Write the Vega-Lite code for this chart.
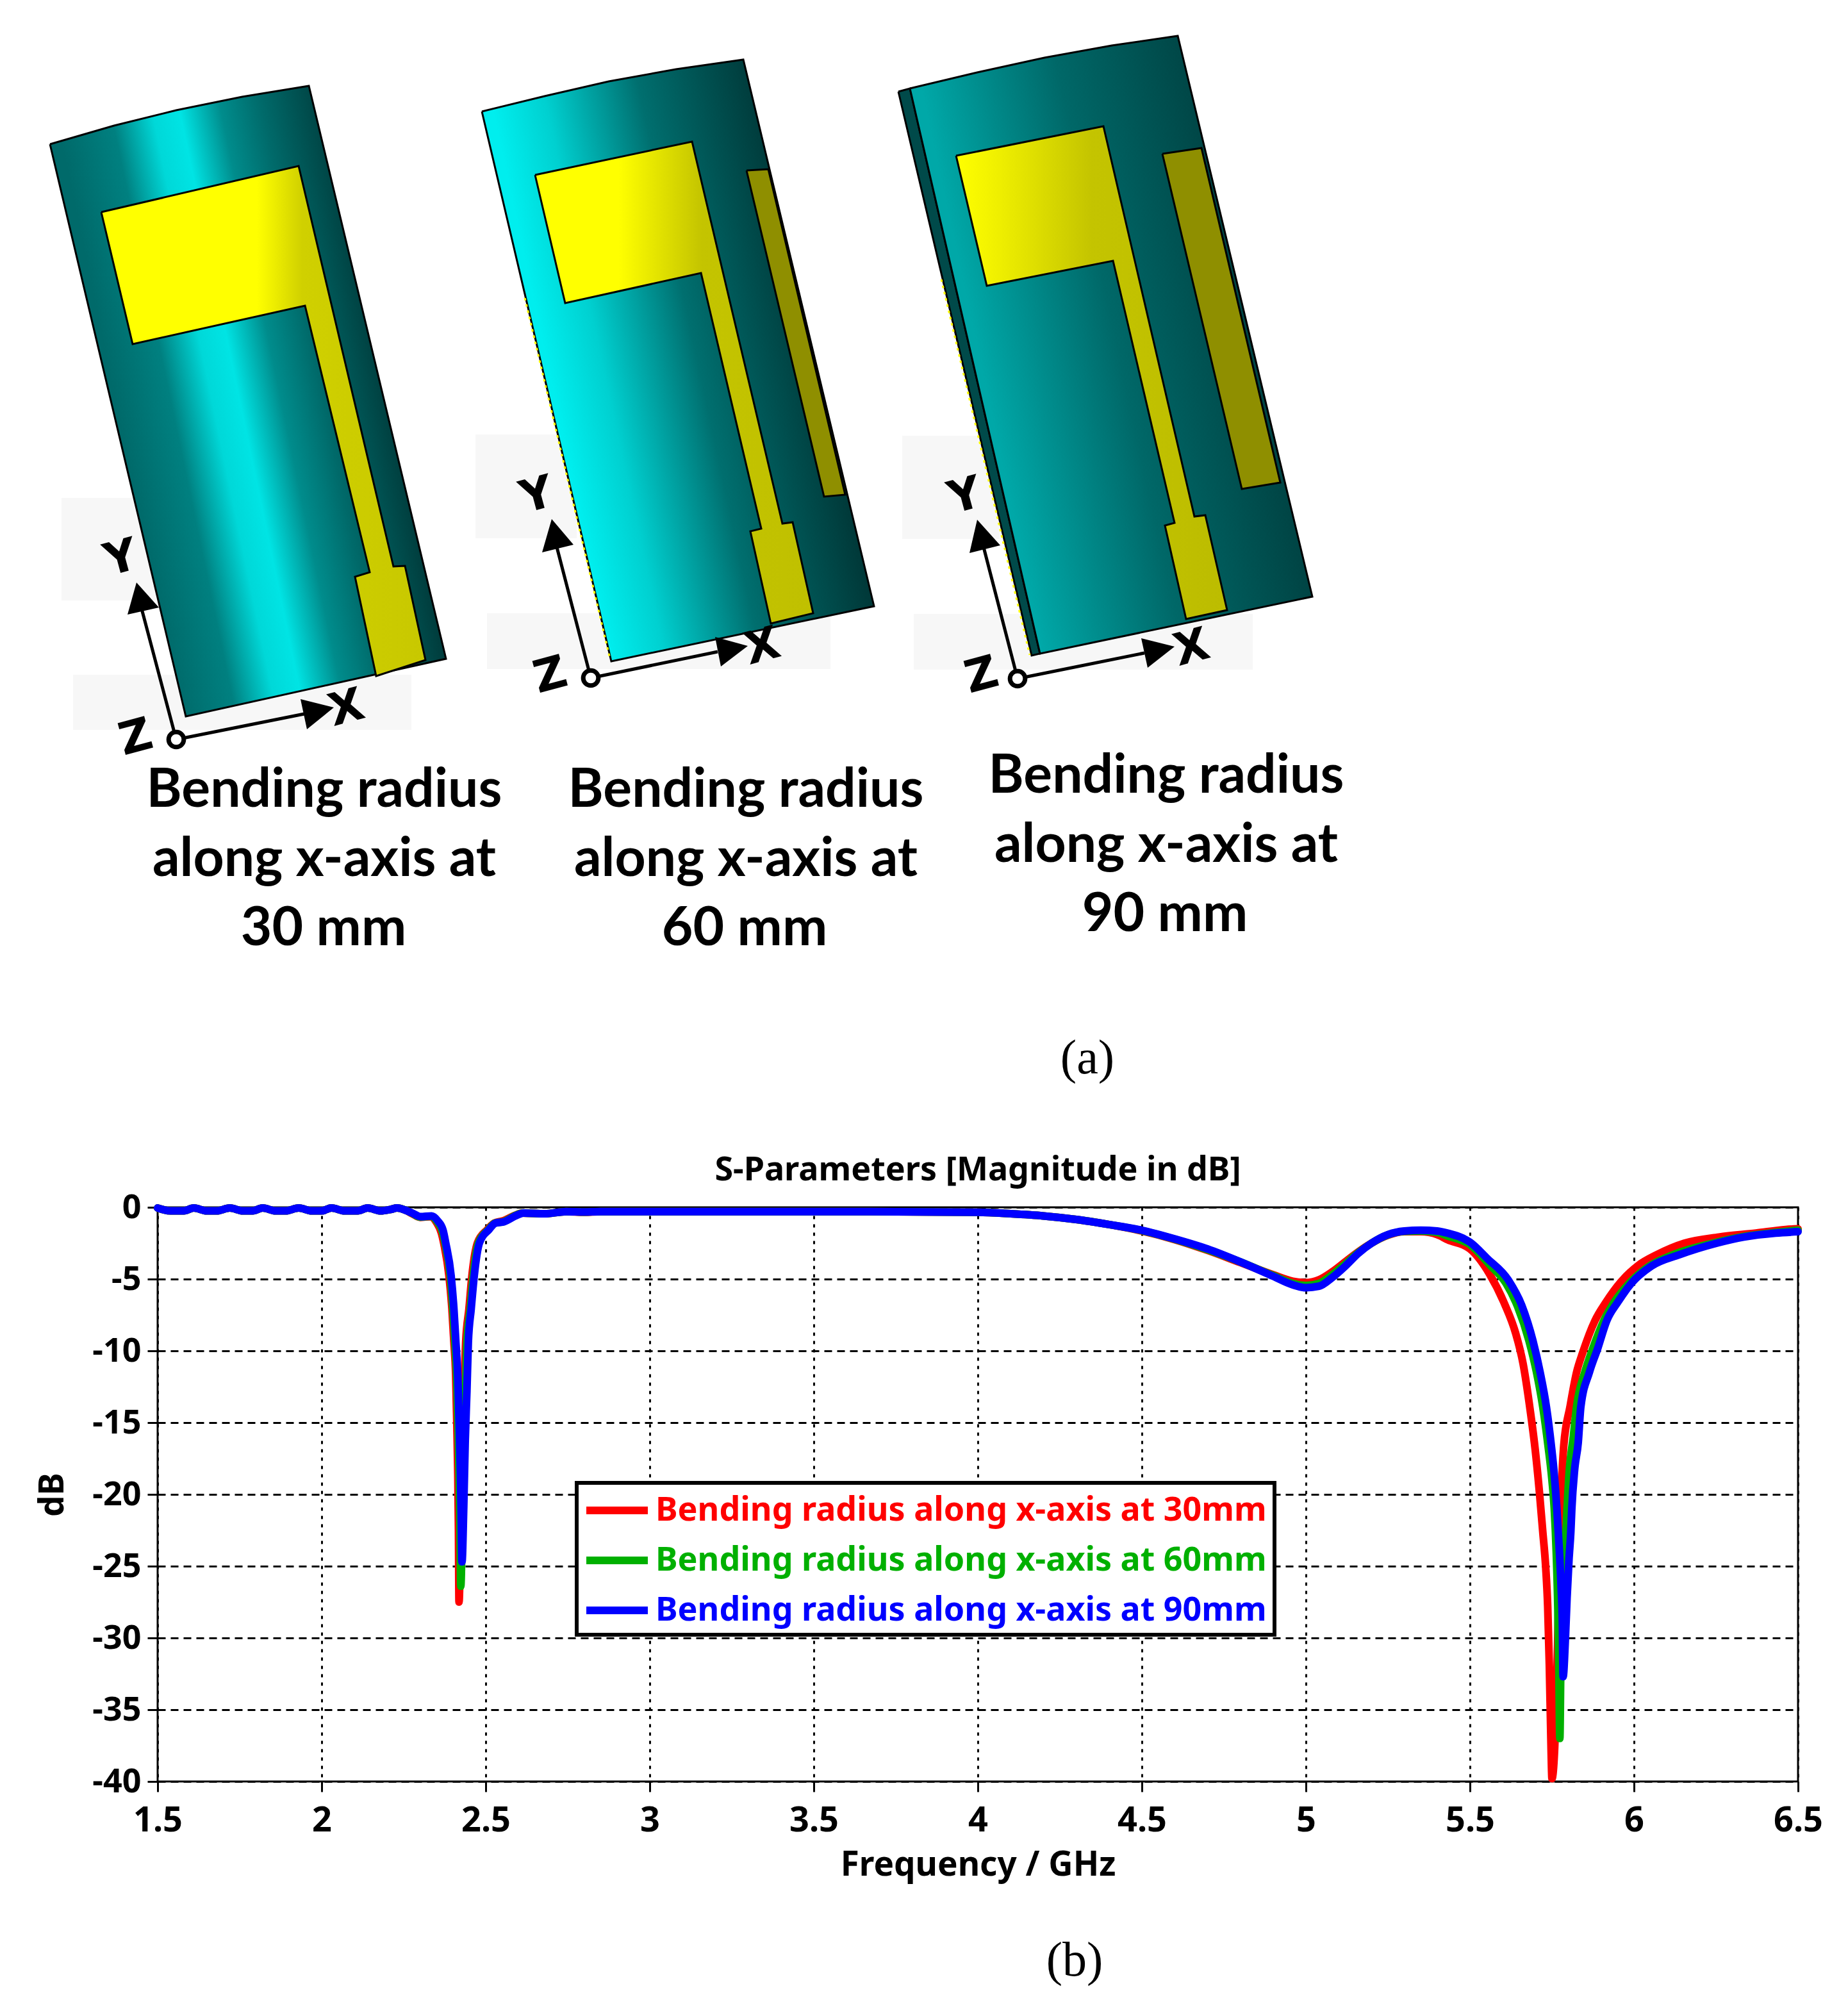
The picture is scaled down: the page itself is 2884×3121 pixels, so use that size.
{"$schema":"https://vega.github.io/schema/vega-lite/v6.json","width":2560,"height":896,"autosize":{"type":"none"},"padding":{"left":246,"top":1884,"right":78,"bottom":341},"background":"white","config":{"view":{"stroke":"#000000","strokeWidth":3},"font":"Noto Sans","legend":{"strokeWidth":6}},
"datasets":{
"shapes":[
{"shape":"b1","part":"backdrop","i":0,"x":96,"y":777},{"shape":"b1","part":"backdrop","i":1,"x":260,"y":777},{"shape":"b1","part":"backdrop","i":2,"x":260,"y":937},{"shape":"b1","part":"backdrop","i":3,"x":96,"y":937},
{"shape":"b2","part":"backdrop","i":0,"x":114,"y":1053},{"shape":"b2","part":"backdrop","i":1,"x":642,"y":1053},{"shape":"b2","part":"backdrop","i":2,"x":642,"y":1139},{"shape":"b2","part":"backdrop","i":3,"x":114,"y":1139},
{"shape":"b3","part":"backdrop","i":0,"x":742,"y":678},{"shape":"b3","part":"backdrop","i":1,"x":900,"y":678},{"shape":"b3","part":"backdrop","i":2,"x":900,"y":840},{"shape":"b3","part":"backdrop","i":3,"x":742,"y":840},
{"shape":"b4","part":"backdrop","i":0,"x":760,"y":957},{"shape":"b4","part":"backdrop","i":1,"x":1296,"y":957},{"shape":"b4","part":"backdrop","i":2,"x":1296,"y":1044},{"shape":"b4","part":"backdrop","i":3,"x":760,"y":1044},
{"shape":"b5","part":"backdrop","i":0,"x":1408,"y":680},{"shape":"b5","part":"backdrop","i":1,"x":1560,"y":680},{"shape":"b5","part":"backdrop","i":2,"x":1560,"y":841},{"shape":"b5","part":"backdrop","i":3,"x":1408,"y":841},
{"shape":"b6","part":"backdrop","i":0,"x":1426,"y":958},{"shape":"b6","part":"backdrop","i":1,"x":1955,"y":958},{"shape":"b6","part":"backdrop","i":2,"x":1955,"y":1045},{"shape":"b6","part":"backdrop","i":3,"x":1426,"y":1045},
{"shape":"body1","part":"body1","i":0,"x":78,"y":225},{"shape":"body1","part":"body1","i":1,"x":178,"y":196},{"shape":"body1","part":"body1","i":2,"x":275,"y":172},{"shape":"body1","part":"body1","i":3,"x":378,"y":151},{"shape":"body1","part":"body1","i":4,"x":482,"y":134},{"shape":"body1","part":"body1","i":5,"x":696,"y":1028},{"shape":"body1","part":"body1","i":6,"x":290,"y":1118},{"shape":"body1","part":"body1","i":7,"x":78,"y":225},
{"shape":"body2","part":"body2","i":0,"x":752,"y":174},{"shape":"body2","part":"body2","i":1,"x":850,"y":150},{"shape":"body2","part":"body2","i":2,"x":950,"y":127},{"shape":"body2","part":"body2","i":3,"x":1055,"y":108},{"shape":"body2","part":"body2","i":4,"x":1160,"y":93},{"shape":"body2","part":"body2","i":5,"x":1364,"y":946},{"shape":"body2","part":"body2","i":6,"x":954,"y":1032},{"shape":"body2","part":"body2","i":7,"x":752,"y":174},
{"shape":"strip3","part":"strip3","i":0,"x":1402,"y":143},{"shape":"strip3","part":"strip3","i":1,"x":1420,"y":138},{"shape":"strip3","part":"strip3","i":2,"x":1623,"y":1020},{"shape":"strip3","part":"strip3","i":3,"x":1610,"y":1023},{"shape":"strip3","part":"strip3","i":4,"x":1402,"y":143},
{"shape":"body3","part":"body3","i":0,"x":1420,"y":138},{"shape":"body3","part":"body3","i":1,"x":1525,"y":113},{"shape":"body3","part":"body3","i":2,"x":1630,"y":90},{"shape":"body3","part":"body3","i":3,"x":1735,"y":71},{"shape":"body3","part":"body3","i":4,"x":1838,"y":56},{"shape":"body3","part":"body3","i":5,"x":2048,"y":931},{"shape":"body3","part":"body3","i":6,"x":1623,"y":1020},{"shape":"body3","part":"body3","i":7,"x":1420,"y":138},
{"shape":"edge2","part":"edge","i":0,"x":819,"y":465},{"shape":"edge2","part":"edge","i":1,"x":952,"y":1028},
{"shape":"edge3","part":"edge","i":0,"x":1469,"y":436},{"shape":"edge3","part":"edge","i":1,"x":1607,"y":1022},
{"shape":"patch1","part":"patch1","i":0,"x":158,"y":331},{"shape":"patch1","part":"patch1","i":1,"x":466,"y":259},{"shape":"patch1","part":"patch1","i":2,"x":614,"y":884},{"shape":"patch1","part":"patch1","i":3,"x":632,"y":883},{"shape":"patch1","part":"patch1","i":4,"x":664,"y":1030},{"shape":"patch1","part":"patch1","i":5,"x":587,"y":1055},{"shape":"patch1","part":"patch1","i":6,"x":554,"y":900},{"shape":"patch1","part":"patch1","i":7,"x":577,"y":893},{"shape":"patch1","part":"patch1","i":8,"x":476,"y":477},{"shape":"patch1","part":"patch1","i":9,"x":207,"y":537},{"shape":"patch1","part":"patch1","i":10,"x":158,"y":331},
{"shape":"patch2","part":"patch2","i":0,"x":835,"y":273},{"shape":"patch2","part":"patch2","i":1,"x":1080,"y":221},{"shape":"patch2","part":"patch2","i":2,"x":1221,"y":817},{"shape":"patch2","part":"patch2","i":3,"x":1237,"y":815},{"shape":"patch2","part":"patch2","i":4,"x":1269,"y":957},{"shape":"patch2","part":"patch2","i":5,"x":1203,"y":973},{"shape":"patch2","part":"patch2","i":6,"x":1171,"y":829},{"shape":"patch2","part":"patch2","i":7,"x":1188,"y":825},{"shape":"patch2","part":"patch2","i":8,"x":1094,"y":426},{"shape":"patch2","part":"patch2","i":9,"x":882,"y":473},{"shape":"patch2","part":"patch2","i":10,"x":835,"y":273},
{"shape":"patch3","part":"patch3","i":0,"x":1492,"y":243},{"shape":"patch3","part":"patch3","i":1,"x":1722,"y":197},{"shape":"patch3","part":"patch3","i":2,"x":1864,"y":806},{"shape":"patch3","part":"patch3","i":3,"x":1881,"y":804},{"shape":"patch3","part":"patch3","i":4,"x":1915,"y":952},{"shape":"patch3","part":"patch3","i":5,"x":1851,"y":966},{"shape":"patch3","part":"patch3","i":6,"x":1818,"y":820},{"shape":"patch3","part":"patch3","i":7,"x":1833,"y":816},{"shape":"patch3","part":"patch3","i":8,"x":1737,"y":407},{"shape":"patch3","part":"patch3","i":9,"x":1540,"y":446},{"shape":"patch3","part":"patch3","i":10,"x":1492,"y":243},
{"shape":"ground2","part":"ground","i":0,"x":1165,"y":266},{"shape":"ground2","part":"ground","i":1,"x":1199,"y":264},{"shape":"ground2","part":"ground","i":2,"x":1319,"y":772},{"shape":"ground2","part":"ground","i":3,"x":1286,"y":775},{"shape":"ground2","part":"ground","i":4,"x":1165,"y":266},
{"shape":"ground3","part":"ground","i":0,"x":1814,"y":240},{"shape":"ground3","part":"ground","i":1,"x":1875,"y":231},{"shape":"ground3","part":"ground","i":2,"x":1998,"y":753},{"shape":"ground3","part":"ground","i":3,"x":1938,"y":763},{"shape":"ground3","part":"ground","i":4,"x":1814,"y":240},
{"shape":"ax1","part":"axis","i":0,"x":221,"y":950},{"shape":"ax1","part":"axis","i":1,"x":275,"y":1154},{"shape":"ax1","part":"axis","i":2,"x":475,"y":1114},
{"shape":"ax2","part":"axis","i":0,"x":868,"y":850},{"shape":"ax2","part":"axis","i":1,"x":922,"y":1058},{"shape":"ax2","part":"axis","i":2,"x":1120,"y":1017},
{"shape":"ax3","part":"axis","i":0,"x":1534,"y":850},{"shape":"ax3","part":"axis","i":1,"x":1588,"y":1059},{"shape":"ax3","part":"axis","i":2,"x":1786,"y":1019},
{"shape":"ar1y","part":"arrow","i":0,"x":213,"y":909},{"shape":"ar1y","part":"arrow","i":1,"x":248,"y":948},{"shape":"ar1y","part":"arrow","i":2,"x":199,"y":959},
{"shape":"ar1x","part":"arrow","i":0,"x":521,"y":1104},{"shape":"ar1x","part":"arrow","i":1,"x":479,"y":1138},{"shape":"ar1x","part":"arrow","i":2,"x":469,"y":1091},
{"shape":"ar2y","part":"arrow","i":0,"x":861,"y":810},{"shape":"ar2y","part":"arrow","i":1,"x":895,"y":850},{"shape":"ar2y","part":"arrow","i":2,"x":846,"y":862},
{"shape":"ar2x","part":"arrow","i":0,"x":1167,"y":1008},{"shape":"ar2x","part":"arrow","i":1,"x":1125,"y":1040},{"shape":"ar2x","part":"arrow","i":2,"x":1116,"y":994},
{"shape":"ar3y","part":"arrow","i":0,"x":1525,"y":811},{"shape":"ar3y","part":"arrow","i":1,"x":1561,"y":851},{"shape":"ar3y","part":"arrow","i":2,"x":1513,"y":863},
{"shape":"ar3x","part":"arrow","i":0,"x":1833,"y":1009},{"shape":"ar3x","part":"arrow","i":1,"x":1791,"y":1042},{"shape":"ar3x","part":"arrow","i":2,"x":1781,"y":996}
],
"origins":[{"x":275,"y":1154},{"x":922,"y":1058},{"x":1588,"y":1059}],
"letters":[{"t":"Y","x":189,"y":872},{"t":"Z","x":212,"y":1152},{"t":"X","x":541,"y":1106},{"t":"Y","x":838,"y":774},{"t":"Z","x":859,"y":1055},{"t":"X","x":1190,"y":1010},{"t":"Y","x":1506,"y":775},{"t":"Z","x":1532,"y":1055},{"t":"X","x":1860,"y":1012}],
"captions":[{"t":"Bending radius","x":506,"y":1234},{"t":"along x-axis at","x":506,"y":1342},{"t":"30 mm","x":505,"y":1450},{"t":"Bending radius","x":1164,"y":1234},{"t":"along x-axis at","x":1164,"y":1342},{"t":"60 mm","x":1162,"y":1450},{"t":"Bending radius","x":1820,"y":1212},{"t":"along x-axis at","x":1820,"y":1320},{"t":"90 mm","x":1818,"y":1428}],
"panels":[{"t":"(a)","x":1697,"y":1652},{"t":"(b)","x":1677,"y":3060}],
"heading":[{"t":"S-Parameters [Magnitude in dB]","x":1526,"y":1826}]
},
"resolve":{"scale":{"x":"independent","y":"independent"}},
"layer":[
{"encoding":{"x":{"field":"x","type":"quantitative","axis":null,"scale":{"domain":[246,2806],"nice":false,"zero":false}},"y":{"field":"y","type":"quantitative","axis":null,"scale":{"domain":[2780,1884],"nice":false,"zero":false}}},
"layer":[
{"data":{"name":"shapes"},"transform":[{"filter":"datum.part=='backdrop'"}],"mark":{"type":"line","fill":"#f7f7f7","stroke":null,"strokeWidth":0},"encoding":{"detail":{"field":"shape"},"order":{"field":"i"}}},
{"data":{"name":"shapes"},"transform":[{"filter":"datum.part=='body1'"}],"mark":{"type":"line","stroke":"#000000","strokeWidth":3,"fill":{"gradient":"linear","x1":0,"y1":0,"x2":0.63,"y2":-0.208,"stops":[{"offset":0,"color":"#006a6a"},{"offset":0.2,"color":"#008080"},{"offset":0.35,"color":"#00d8d8"},{"offset":0.45,"color":"#00e4e4"},{"offset":0.6,"color":"#008c8c"},{"offset":0.75,"color":"#006a6a"},{"offset":1,"color":"#003c3c"}]}},"encoding":{"order":{"field":"i"}}},
{"data":{"name":"shapes"},"transform":[{"filter":"datum.part=='body2'"}],"mark":{"type":"line","stroke":"#000000","strokeWidth":3,"fill":{"gradient":"linear","x1":0,"y1":0,"x2":0.63,"y2":-0.208,"stops":[{"offset":0,"color":"#00eeee"},{"offset":0.2,"color":"#00d0d0"},{"offset":0.55,"color":"#006f6f"},{"offset":0.8,"color":"#005050"},{"offset":1,"color":"#003838"}]}},"encoding":{"order":{"field":"i"}}},
{"data":{"name":"shapes"},"transform":[{"filter":"datum.part=='strip3'"}],"mark":{"type":"line","stroke":"#000000","strokeWidth":3,"fill":"#004a4a"},"encoding":{"order":{"field":"i"}}},
{"data":{"name":"shapes"},"transform":[{"filter":"datum.part=='body3'"}],"mark":{"type":"line","stroke":"#000000","strokeWidth":3,"fill":{"gradient":"linear","x1":0,"y1":0,"x2":0.63,"y2":-0.208,"stops":[{"offset":0,"color":"#00a8a8"},{"offset":0.5,"color":"#006868"},{"offset":1,"color":"#004444"}]}},"encoding":{"order":{"field":"i"}}},
{"data":{"name":"shapes"},"transform":[{"filter":"datum.part=='edge'"}],"mark":{"type":"line","stroke":"#ffff00","strokeWidth":3,"strokeDash":[4,6]},"encoding":{"detail":{"field":"shape"},"order":{"field":"i"}}},
{"data":{"name":"shapes"},"transform":[{"filter":"datum.part=='patch1'"}],"mark":{"type":"line","stroke":"#000000","strokeWidth":3,"fill":{"gradient":"linear","x1":0,"y1":0,"x2":1,"y2":0,"stops":[{"offset":0,"color":"#ffff00"},{"offset":0.48,"color":"#ffff00"},{"offset":0.62,"color":"#d0d000"},{"offset":1,"color":"#c8c800"}]}},"encoding":{"order":{"field":"i"}}},
{"data":{"name":"shapes"},"transform":[{"filter":"datum.part=='patch2'"}],"mark":{"type":"line","stroke":"#000000","strokeWidth":3,"fill":{"gradient":"linear","x1":0,"y1":0,"x2":1,"y2":0,"stops":[{"offset":0,"color":"#ffff00"},{"offset":0.3,"color":"#ffff00"},{"offset":0.6,"color":"#c4c400"},{"offset":1,"color":"#c0c000"}]}},"encoding":{"order":{"field":"i"}}},
{"data":{"name":"shapes"},"transform":[{"filter":"datum.part=='patch3'"}],"mark":{"type":"line","stroke":"#000000","strokeWidth":3,"fill":{"gradient":"linear","x1":0,"y1":0,"x2":1,"y2":0,"stops":[{"offset":0,"color":"#ffff00"},{"offset":0.15,"color":"#f0f000"},{"offset":0.5,"color":"#c4c400"},{"offset":1,"color":"#bcbc00"}]}},"encoding":{"order":{"field":"i"}}},
{"data":{"name":"shapes"},"transform":[{"filter":"datum.part=='ground'"}],"mark":{"type":"line","stroke":"#000000","strokeWidth":3,"fill":"#8f8f00"},"encoding":{"detail":{"field":"shape"},"order":{"field":"i"}}},
{"data":{"name":"shapes"},"transform":[{"filter":"datum.part=='axis'"}],"mark":{"type":"line","stroke":"#000000","strokeWidth":5},"encoding":{"detail":{"field":"shape"},"order":{"field":"i"}}},
{"data":{"name":"shapes"},"transform":[{"filter":"datum.part=='arrow'"}],"mark":{"type":"line","stroke":null,"fill":"#000000"},"encoding":{"detail":{"field":"shape"},"order":{"field":"i"}}},
{"data":{"name":"origins"},"mark":{"type":"point","filled":true,"fill":"#ffffff","stroke":"#000000","strokeWidth":7,"size":560,"opacity":1}},
{"data":{"name":"letters"},"mark":{"type":"text","font":"DejaVu Sans","fontWeight":"bold","fontSize":70,"angle":345,"color":"#000000","align":"center","baseline":"middle"},"encoding":{"text":{"field":"t"}}},
{"data":{"name":"captions"},"mark":{"type":"text","font":"Lato","fontWeight":"bold","fontSize":84,"color":"#000000","align":"center","baseline":"middle"},"encoding":{"text":{"field":"t"}}},
{"data":{"name":"panels"},"mark":{"type":"text","font":"Liberation Serif","fontSize":76,"color":"#000000","align":"center","baseline":"middle"},"encoding":{"text":{"field":"t"}}},
{"data":{"name":"heading"},"mark":{"type":"text","font":"Noto Sans","fontWeight":"bold","fontSize":52,"color":"#000000","align":"center","baseline":"middle"},"encoding":{"text":{"field":"t"}}}
]},
{"data":{"values":[
{"f":1.5,"db":-0.05,"r":"30mm"},{"f":1.54,"db":-0.25,"r":"30mm"},{"f":1.58,"db":-0.25,"r":"30mm"},{"f":1.61,"db":-0.05,"r":"30mm"},{"f":1.65,"db":-0.25,"r":"30mm"},{"f":1.68,"db":-0.25,"r":"30mm"},{"f":1.72,"db":-0.05,"r":"30mm"},{"f":1.76,"db":-0.25,"r":"30mm"},{"f":1.79,"db":-0.25,"r":"30mm"},{"f":1.82,"db":-0.05,"r":"30mm"},{"f":1.86,"db":-0.25,"r":"30mm"},{"f":1.89,"db":-0.25,"r":"30mm"},{"f":1.93,"db":-0.05,"r":"30mm"},{"f":1.97,"db":-0.25,"r":"30mm"},{"f":2.0,"db":-0.25,"r":"30mm"},{"f":2.03,"db":-0.05,"r":"30mm"},{"f":2.07,"db":-0.25,"r":"30mm"},{"f":2.11,"db":-0.25,"r":"30mm"},{"f":2.14,"db":-0.05,"r":"30mm"},{"f":2.18,"db":-0.25,"r":"30mm"},{"f":2.21,"db":-0.15,"r":"30mm"},{"f":2.23,"db":-0.05,"r":"30mm"},{"f":2.255,"db":-0.2,"r":"30mm"},{"f":2.276,"db":-0.45,"r":"30mm"},{"f":2.3,"db":-0.7,"r":"30mm"},{"f":2.332,"db":-0.65,"r":"30mm"},{"f":2.35,"db":-1.05,"r":"30mm"},{"f":2.365,"db":-1.8,"r":"30mm"},{"f":2.373,"db":-2.6,"r":"30mm"},{"f":2.388,"db":-4.77,"r":"30mm"},{"f":2.397,"db":-7.07,"r":"30mm"},{"f":2.403,"db":-9.38,"r":"30mm"},{"f":2.4085,"db":-11.68,"r":"30mm"},{"f":2.412,"db":-15.1,"r":"30mm"},{"f":2.415,"db":-18.6,"r":"30mm"},{"f":2.417,"db":-22.5,"r":"30mm"},{"f":2.4186,"db":-27.5,"r":"30mm"},{"f":2.424,"db":-22,"r":"30mm"},{"f":2.428,"db":-16.3,"r":"30mm"},{"f":2.4335,"db":-12.8,"r":"30mm"},{"f":2.439,"db":-9.4,"r":"30mm"},{"f":2.449,"db":-7.07,"r":"30mm"},{"f":2.458,"db":-4.77,"r":"30mm"},{"f":2.475,"db":-2.47,"r":"30mm"},{"f":2.505,"db":-1.55,"r":"30mm"},{"f":2.526,"db":-1.1,"r":"30mm"},{"f":2.552,"db":-0.95,"r":"30mm"},{"f":2.59,"db":-0.55,"r":"30mm"},{"f":2.61,"db":-0.4,"r":"30mm"},{"f":2.68,"db":-0.45,"r":"30mm"},{"f":2.745,"db":-0.3,"r":"30mm"},{"f":2.8,"db":-0.35,"r":"30mm"},{"f":2.85,"db":-0.3,"r":"30mm"},{"f":3.0,"db":-0.3,"r":"30mm"},{"f":3.3,"db":-0.3,"r":"30mm"},{"f":3.6,"db":-0.3,"r":"30mm"},{"f":4.0,"db":-0.35,"r":"30mm"},{"f":4.1,"db":-0.45,"r":"30mm"},{"f":4.2,"db":-0.6,"r":"30mm"},{"f":4.3,"db":-0.85,"r":"30mm"},{"f":4.4,"db":-1.2,"r":"30mm"},{"f":4.5,"db":-1.65,"r":"30mm"},{"f":4.6,"db":-2.25,"r":"30mm"},{"f":4.7,"db":-3.0,"r":"30mm"},{"f":4.8,"db":-3.85,"r":"30mm"},{"f":4.9,"db":-4.7,"r":"30mm"},{"f":4.96,"db":-5.15,"r":"30mm"},{"f":5.0,"db":-5.25,"r":"30mm"},{"f":5.04,"db":-5.05,"r":"30mm"},{"f":5.08,"db":-4.5,"r":"30mm"},{"f":5.12,"db":-3.8,"r":"30mm"},{"f":5.16,"db":-3.1,"r":"30mm"},{"f":5.2,"db":-2.5,"r":"30mm"},{"f":5.25,"db":-1.95,"r":"30mm"},{"f":5.3,"db":-1.7,"r":"30mm"},{"f":5.35,"db":-1.7,"r":"30mm"},{"f":5.4,"db":-1.9,"r":"30mm"},{"f":5.432,"db":-2.26,"r":"30mm"},{"f":5.5,"db":-2.9,"r":"30mm"},{"f":5.56,"db":-4.66,"r":"30mm"},{"f":5.605,"db":-6.7,"r":"30mm"},{"f":5.639,"db":-8.75,"r":"30mm"},{"f":5.662,"db":-10.9,"r":"30mm"},{"f":5.684,"db":-14.2,"r":"30mm"},{"f":5.699,"db":-16.9,"r":"30mm"},{"f":5.712,"db":-19.9,"r":"30mm"},{"f":5.722,"db":-22.6,"r":"30mm"},{"f":5.731,"db":-25.1,"r":"30mm"},{"f":5.737,"db":-27.8,"r":"30mm"},{"f":5.742,"db":-31.9,"r":"30mm"},{"f":5.747,"db":-37.4,"r":"30mm"},{"f":5.75,"db":-39.8,"r":"30mm"},{"f":5.763,"db":-34.6,"r":"30mm"},{"f":5.771,"db":-26.5,"r":"30mm"},{"f":5.777,"db":-21,"r":"30mm"},{"f":5.786,"db":-16.6,"r":"30mm"},{"f":5.805,"db":-13.9,"r":"30mm"},{"f":5.825,"db":-11.5,"r":"30mm"},{"f":5.844,"db":-10.1,"r":"30mm"},{"f":5.881,"db":-7.9,"r":"30mm"},{"f":5.915,"db":-6.6,"r":"30mm"},{"f":5.96,"db":-5.2,"r":"30mm"},{"f":6.01,"db":-4.1,"r":"30mm"},{"f":6.07,"db":-3.3,"r":"30mm"},{"f":6.154,"db":-2.5,"r":"30mm"},{"f":6.259,"db":-2.07,"r":"30mm"},{"f":6.372,"db":-1.8,"r":"30mm"},{"f":6.462,"db":-1.55,"r":"30mm"},{"f":6.5,"db":-1.5,"r":"30mm"},
{"f":1.5,"db":-0.05,"r":"60mm"},{"f":1.54,"db":-0.25,"r":"60mm"},{"f":1.58,"db":-0.25,"r":"60mm"},{"f":1.61,"db":-0.05,"r":"60mm"},{"f":1.65,"db":-0.25,"r":"60mm"},{"f":1.68,"db":-0.25,"r":"60mm"},{"f":1.72,"db":-0.05,"r":"60mm"},{"f":1.76,"db":-0.25,"r":"60mm"},{"f":1.79,"db":-0.25,"r":"60mm"},{"f":1.82,"db":-0.05,"r":"60mm"},{"f":1.86,"db":-0.25,"r":"60mm"},{"f":1.89,"db":-0.25,"r":"60mm"},{"f":1.93,"db":-0.05,"r":"60mm"},{"f":1.97,"db":-0.25,"r":"60mm"},{"f":2.0,"db":-0.25,"r":"60mm"},{"f":2.03,"db":-0.05,"r":"60mm"},{"f":2.07,"db":-0.25,"r":"60mm"},{"f":2.11,"db":-0.25,"r":"60mm"},{"f":2.14,"db":-0.05,"r":"60mm"},{"f":2.18,"db":-0.25,"r":"60mm"},{"f":2.21,"db":-0.15,"r":"60mm"},{"f":2.23,"db":-0.05,"r":"60mm"},{"f":2.255,"db":-0.2,"r":"60mm"},{"f":2.276,"db":-0.42,"r":"60mm"},{"f":2.301,"db":-0.68,"r":"60mm"},{"f":2.333,"db":-0.62,"r":"60mm"},{"f":2.352,"db":-1.0,"r":"60mm"},{"f":2.368,"db":-1.7,"r":"60mm"},{"f":2.376,"db":-2.5,"r":"60mm"},{"f":2.392,"db":-4.77,"r":"60mm"},{"f":2.4,"db":-7.07,"r":"60mm"},{"f":2.406,"db":-9.38,"r":"60mm"},{"f":2.4115,"db":-11.68,"r":"60mm"},{"f":2.4155,"db":-15.1,"r":"60mm"},{"f":2.419,"db":-18.6,"r":"60mm"},{"f":2.4215,"db":-22,"r":"60mm"},{"f":2.424,"db":-26.4,"r":"60mm"},{"f":2.429,"db":-21.5,"r":"60mm"},{"f":2.433,"db":-16.3,"r":"60mm"},{"f":2.4385,"db":-12.8,"r":"60mm"},{"f":2.443,"db":-9.4,"r":"60mm"},{"f":2.453,"db":-7.07,"r":"60mm"},{"f":2.462,"db":-4.77,"r":"60mm"},{"f":2.478,"db":-2.47,"r":"60mm"},{"f":2.508,"db":-1.55,"r":"60mm"},{"f":2.528,"db":-1.1,"r":"60mm"},{"f":2.554,"db":-1.0,"r":"60mm"},{"f":2.592,"db":-0.55,"r":"60mm"},{"f":2.612,"db":-0.4,"r":"60mm"},{"f":2.68,"db":-0.45,"r":"60mm"},{"f":2.745,"db":-0.3,"r":"60mm"},{"f":2.8,"db":-0.33,"r":"60mm"},{"f":2.85,"db":-0.3,"r":"60mm"},{"f":3.0,"db":-0.3,"r":"60mm"},{"f":3.3,"db":-0.3,"r":"60mm"},{"f":3.6,"db":-0.3,"r":"60mm"},{"f":4.0,"db":-0.35,"r":"60mm"},{"f":4.1,"db":-0.45,"r":"60mm"},{"f":4.2,"db":-0.6,"r":"60mm"},{"f":4.3,"db":-0.85,"r":"60mm"},{"f":4.4,"db":-1.2,"r":"60mm"},{"f":4.5,"db":-1.62,"r":"60mm"},{"f":4.6,"db":-2.22,"r":"60mm"},{"f":4.7,"db":-2.95,"r":"60mm"},{"f":4.8,"db":-3.8,"r":"60mm"},{"f":4.9,"db":-4.75,"r":"60mm"},{"f":4.96,"db":-5.3,"r":"60mm"},{"f":5.0,"db":-5.45,"r":"60mm"},{"f":5.04,"db":-5.3,"r":"60mm"},{"f":5.08,"db":-4.7,"r":"60mm"},{"f":5.12,"db":-3.95,"r":"60mm"},{"f":5.16,"db":-3.15,"r":"60mm"},{"f":5.2,"db":-2.5,"r":"60mm"},{"f":5.25,"db":-1.92,"r":"60mm"},{"f":5.3,"db":-1.68,"r":"60mm"},{"f":5.35,"db":-1.65,"r":"60mm"},{"f":5.4,"db":-1.75,"r":"60mm"},{"f":5.432,"db":-2.0,"r":"60mm"},{"f":5.5,"db":-2.6,"r":"60mm"},{"f":5.56,"db":-4.0,"r":"60mm"},{"f":5.61,"db":-5.3,"r":"60mm"},{"f":5.645,"db":-6.9,"r":"60mm"},{"f":5.68,"db":-9.3,"r":"60mm"},{"f":5.703,"db":-11.5,"r":"60mm"},{"f":5.722,"db":-13.9,"r":"60mm"},{"f":5.738,"db":-16.6,"r":"60mm"},{"f":5.75,"db":-19,"r":"60mm"},{"f":5.757,"db":-21,"r":"60mm"},{"f":5.763,"db":-24,"r":"60mm"},{"f":5.768,"db":-28,"r":"60mm"},{"f":5.771,"db":-32,"r":"60mm"},{"f":5.774,"db":-37,"r":"60mm"},{"f":5.777,"db":-32,"r":"60mm"},{"f":5.785,"db":-27,"r":"60mm"},{"f":5.79,"db":-24,"r":"60mm"},{"f":5.796,"db":-21,"r":"60mm"},{"f":5.803,"db":-18.3,"r":"60mm"},{"f":5.815,"db":-16,"r":"60mm"},{"f":5.825,"db":-13.9,"r":"60mm"},{"f":5.85,"db":-11.5,"r":"60mm"},{"f":5.875,"db":-9.8,"r":"60mm"},{"f":5.908,"db":-7.9,"r":"60mm"},{"f":5.94,"db":-6.6,"r":"60mm"},{"f":5.985,"db":-5.3,"r":"60mm"},{"f":6.04,"db":-4.2,"r":"60mm"},{"f":6.12,"db":-3.3,"r":"60mm"},{"f":6.24,"db":-2.5,"r":"60mm"},{"f":6.33,"db":-2.05,"r":"60mm"},{"f":6.43,"db":-1.75,"r":"60mm"},{"f":6.5,"db":-1.6,"r":"60mm"},
{"f":1.5,"db":-0.05,"r":"90mm"},{"f":1.54,"db":-0.25,"r":"90mm"},{"f":1.58,"db":-0.25,"r":"90mm"},{"f":1.61,"db":-0.05,"r":"90mm"},{"f":1.65,"db":-0.25,"r":"90mm"},{"f":1.68,"db":-0.25,"r":"90mm"},{"f":1.72,"db":-0.05,"r":"90mm"},{"f":1.76,"db":-0.25,"r":"90mm"},{"f":1.79,"db":-0.25,"r":"90mm"},{"f":1.82,"db":-0.05,"r":"90mm"},{"f":1.86,"db":-0.25,"r":"90mm"},{"f":1.89,"db":-0.25,"r":"90mm"},{"f":1.93,"db":-0.05,"r":"90mm"},{"f":1.97,"db":-0.25,"r":"90mm"},{"f":2.0,"db":-0.25,"r":"90mm"},{"f":2.03,"db":-0.05,"r":"90mm"},{"f":2.07,"db":-0.25,"r":"90mm"},{"f":2.11,"db":-0.25,"r":"90mm"},{"f":2.14,"db":-0.05,"r":"90mm"},{"f":2.18,"db":-0.25,"r":"90mm"},{"f":2.21,"db":-0.15,"r":"90mm"},{"f":2.23,"db":-0.05,"r":"90mm"},{"f":2.255,"db":-0.2,"r":"90mm"},{"f":2.276,"db":-0.4,"r":"90mm"},{"f":2.302,"db":-0.65,"r":"90mm"},{"f":2.335,"db":-0.6,"r":"90mm"},{"f":2.354,"db":-0.95,"r":"90mm"},{"f":2.37,"db":-1.6,"r":"90mm"},{"f":2.378,"db":-2.47,"r":"90mm"},{"f":2.3945,"db":-4.77,"r":"90mm"},{"f":2.403,"db":-7.07,"r":"90mm"},{"f":2.409,"db":-9.38,"r":"90mm"},{"f":2.4147,"db":-11.68,"r":"90mm"},{"f":2.419,"db":-15.1,"r":"90mm"},{"f":2.423,"db":-18.6,"r":"90mm"},{"f":2.425,"db":-20.9,"r":"90mm"},{"f":2.4277,"db":-24.7,"r":"90mm"},{"f":2.433,"db":-20.9,"r":"90mm"},{"f":2.4375,"db":-16.3,"r":"90mm"},{"f":2.4427,"db":-12.8,"r":"90mm"},{"f":2.447,"db":-9.4,"r":"90mm"},{"f":2.4557,"db":-7.07,"r":"90mm"},{"f":2.465,"db":-4.77,"r":"90mm"},{"f":2.481,"db":-2.47,"r":"90mm"},{"f":2.51,"db":-1.55,"r":"90mm"},{"f":2.53,"db":-1.1,"r":"90mm"},{"f":2.556,"db":-1.0,"r":"90mm"},{"f":2.595,"db":-0.55,"r":"90mm"},{"f":2.615,"db":-0.4,"r":"90mm"},{"f":2.68,"db":-0.45,"r":"90mm"},{"f":2.745,"db":-0.3,"r":"90mm"},{"f":2.8,"db":-0.32,"r":"90mm"},{"f":2.85,"db":-0.3,"r":"90mm"},{"f":3.0,"db":-0.3,"r":"90mm"},{"f":3.3,"db":-0.3,"r":"90mm"},{"f":3.6,"db":-0.3,"r":"90mm"},{"f":4.0,"db":-0.35,"r":"90mm"},{"f":4.1,"db":-0.45,"r":"90mm"},{"f":4.2,"db":-0.6,"r":"90mm"},{"f":4.3,"db":-0.85,"r":"90mm"},{"f":4.4,"db":-1.2,"r":"90mm"},{"f":4.5,"db":-1.6,"r":"90mm"},{"f":4.6,"db":-2.2,"r":"90mm"},{"f":4.7,"db":-2.9,"r":"90mm"},{"f":4.8,"db":-3.8,"r":"90mm"},{"f":4.9,"db":-4.8,"r":"90mm"},{"f":4.96,"db":-5.4,"r":"90mm"},{"f":5.0,"db":-5.6,"r":"90mm"},{"f":5.04,"db":-5.5,"r":"90mm"},{"f":5.08,"db":-4.9,"r":"90mm"},{"f":5.12,"db":-4.1,"r":"90mm"},{"f":5.16,"db":-3.2,"r":"90mm"},{"f":5.2,"db":-2.5,"r":"90mm"},{"f":5.25,"db":-1.9,"r":"90mm"},{"f":5.3,"db":-1.65,"r":"90mm"},{"f":5.35,"db":-1.6,"r":"90mm"},{"f":5.4,"db":-1.65,"r":"90mm"},{"f":5.432,"db":-1.8,"r":"90mm"},{"f":5.5,"db":-2.43,"r":"90mm"},{"f":5.553,"db":-3.57,"r":"90mm"},{"f":5.617,"db":-5.07,"r":"90mm"},{"f":5.658,"db":-6.84,"r":"90mm"},{"f":5.692,"db":-9.3,"r":"90mm"},{"f":5.714,"db":-11.5,"r":"90mm"},{"f":5.733,"db":-13.9,"r":"90mm"},{"f":5.748,"db":-16.6,"r":"90mm"},{"f":5.757,"db":-18.6,"r":"90mm"},{"f":5.765,"db":-21,"r":"90mm"},{"f":5.772,"db":-23.7,"r":"90mm"},{"f":5.778,"db":-26.5,"r":"90mm"},{"f":5.782,"db":-29.2,"r":"90mm"},{"f":5.784,"db":-32.7,"r":"90mm"},{"f":5.791,"db":-30,"r":"90mm"},{"f":5.796,"db":-27.2,"r":"90mm"},{"f":5.802,"db":-24.5,"r":"90mm"},{"f":5.8075,"db":-22.6,"r":"90mm"},{"f":5.8105,"db":-21,"r":"90mm"},{"f":5.819,"db":-18.3,"r":"90mm"},{"f":5.83,"db":-16.4,"r":"90mm"},{"f":5.838,"db":-13.9,"r":"90mm"},{"f":5.864,"db":-11.5,"r":"90mm"},{"f":5.89,"db":-9.8,"r":"90mm"},{"f":5.917,"db":-7.9,"r":"90mm"},{"f":5.951,"db":-6.6,"r":"90mm"},{"f":5.992,"db":-5.3,"r":"90mm"},{"f":6.053,"db":-4.1,"r":"90mm"},{"f":6.139,"db":-3.3,"r":"90mm"},{"f":6.252,"db":-2.5,"r":"90mm"},{"f":6.335,"db":-2.07,"r":"90mm"},{"f":6.432,"db":-1.8,"r":"90mm"},{"f":6.5,"db":-1.7,"r":"90mm"}
]},
"mark":{"type":"line","strokeWidth":12,"strokeJoin":"round","strokeCap":"round","interpolate":"monotone","clip":false},
"encoding":{
"x":{"field":"f","type":"quantitative","scale":{"domain":[1.5,6.5],"nice":false,"zero":false},"axis":{"orient":"bottom","values":[1.5,2,2.5,3,3.5,4,4.5,5,5.5,6,6.5],"format":"~g","title":"Frequency / GHz","titleFont":"Noto Sans","titleFontWeight":"bold","titleFontSize":53,"titleColor":"#000000","titlePadding":16,"labelFont":"Noto Sans","labelFontWeight":"bold","labelFontSize":54,"labelColor":"#000000","labelPadding":18,"labelOverlap":false,"labelFlush":false,"tickColor":"#000000","tickSize":16,"tickWidth":3,"domain":false,"grid":true,"gridColor":"#000000","gridDash":[5,8],"gridWidth":3,"gridOpacity":1}},
"y":{"field":"db","type":"quantitative","scale":{"domain":[-40,0],"nice":false,"zero":false},"axis":{"orient":"left","values":[0,-5,-10,-15,-20,-25,-30,-35,-40],"labelExpr":"replace(datum.label,'−','-')","title":"dB","titleFont":"Noto Sans","titleFontWeight":"bold","titleFontSize":53,"titleColor":"#000000","titlePadding":34,"labelFont":"Noto Sans","labelFontWeight":"bold","labelFontSize":52,"labelColor":"#000000","labelPadding":10,"labelOverlap":false,"tickColor":"#000000","tickSize":16,"tickWidth":3,"domain":false,"grid":true,"gridColor":"#000000","gridDash":[12,8],"gridWidth":3,"gridOpacity":1}},
"color":{"field":"r","type":"nominal","scale":{"domain":["30mm","60mm","90mm"],"range":["#ff0000","#00b000","#0000ff"]},"legend":{"title":null,"orient":"none","legendX":654,"legendY":430,"labelExpr":"'Bending radius along x-axis at ' + datum.label","labelFont":"Noto Sans","labelFontWeight":"bold","labelFontSize":52,"labelLimit":1400,"labelColor":{"expr":"datum.value=='30mm'?'#ff0000':datum.value=='60mm'?'#00b000':'#0000ff'"},"symbolType":"M-1.12,0L2.72,0","symbolSize":2500,"symbolStrokeWidth":12,"strokeColor":"#000000","fillColor":"#ffffff","padding":12,"rowPadding":21,"labelOffset":49}}
}}
]}
